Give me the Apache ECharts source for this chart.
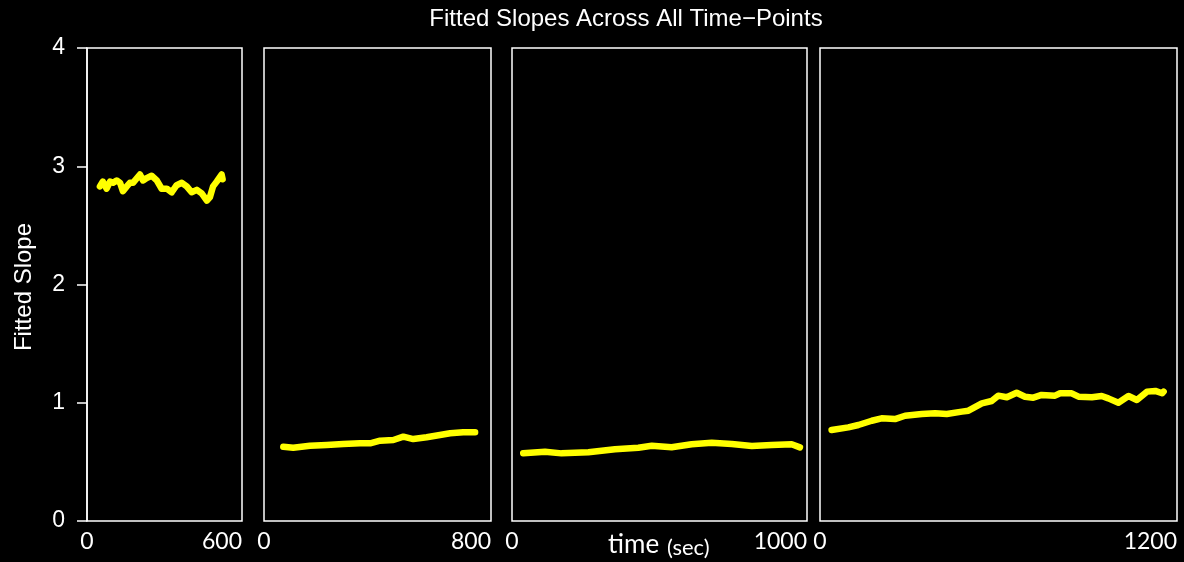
<!DOCTYPE html>
<html>
<head>
<meta charset="utf-8">
<script src="https://cdn.jsdelivr.net/npm/echarts@6/dist/echarts.min.js"></script>
<style>
html,body{margin:0;padding:0;background:#000;}
#chart{width:1184px;height:562px;}
</style>
</head>
<body>
<div id="chart"></div>
<script>
const chartTitle = 'Fitted Slopes Across All Time\u2212Points';
const yAxisTitle = 'Fitted Slope';
const xAxisTitleMain = 'time';
const xAxisTitleUnit = '(sec)';
const yTicks = [0, 1, 2, 3, 4];
const panelMax = [600, 800, 1000, 1200];

const p1Time  = [50, 61, 76, 89, 101, 115, 128, 139, 154, 166, 178, 205, 217, 231, 250, 270, 289, 309, 328, 347, 367, 386, 405, 425, 444, 464, 476, 488, 502, 521, 525];
const p1Slope = [2.83, 2.87, 2.81, 2.87, 2.86, 2.88, 2.86, 2.79, 2.83, 2.86, 2.86, 2.93, 2.88, 2.90, 2.92, 2.88, 2.81, 2.81, 2.78, 2.84, 2.86, 2.83, 2.78, 2.80, 2.77, 2.71, 2.74, 2.83, 2.87, 2.93, 2.89];

const p2Time  = [68, 103, 162, 221, 279, 338, 374, 409, 456, 491, 526, 573, 620, 656, 702, 744];
const p2Slope = [0.628, 0.620, 0.637, 0.643, 0.651, 0.657, 0.657, 0.679, 0.685, 0.713, 0.693, 0.708, 0.727, 0.742, 0.750, 0.750];

const p3Time  = [38, 112, 168, 259, 349, 428, 474, 541, 609, 677, 745, 813, 880, 948, 976];
const p3Slope = [0.572, 0.586, 0.572, 0.581, 0.606, 0.620, 0.637, 0.623, 0.649, 0.662, 0.651, 0.634, 0.643, 0.649, 0.623];

const p4Time  = [39, 95, 129, 174, 207, 252, 286, 342, 387, 426, 477, 499, 544, 577, 599, 628, 661, 689, 717, 745, 790, 807, 846, 869, 914, 947, 969, 1003, 1037, 1065, 1099, 1127, 1150, 1155];
const p4Slope = [0.770, 0.792, 0.812, 0.848, 0.868, 0.862, 0.890, 0.905, 0.911, 0.905, 0.925, 0.933, 0.995, 1.015, 1.060, 1.046, 1.085, 1.051, 1.043, 1.066, 1.060, 1.080, 1.080, 1.051, 1.046, 1.057, 1.037, 1.000, 1.057, 1.023, 1.094, 1.100, 1.080, 1.094];

const times = [p1Time, p2Time, p3Time, p4Time];
const slopes = [p1Slope, p2Slope, p3Slope, p4Slope];

const gridBoxes = [
  {left: 87, width: 155},
  {left: 264, width: 227},
  {left: 512, width: 295},
  {left: 820, width: 357}
];

const chart = echarts.init(document.getElementById('chart'), null, {renderer: 'canvas'});

const grids = gridBoxes.map(g => ({
  left: g.left, width: g.width, top: 48, bottom: 41,
  show: true, borderColor: '#ffffff', borderWidth: 1.5, backgroundColor: 'transparent'
}));

const xAxes = panelMax.map((m, i) => ({
  type: 'value', gridIndex: i, min: 0, max: m, interval: m,
  axisLine: {show: false}, axisTick: {show: false}, splitLine: {show: false},
  axisLabel: {
    color: '#ffffff', fontFamily: 'Lato', fontSize: 23, margin: 9,
    alignMinLabel: 'center', alignMaxLabel: 'right',
    showMinLabel: true, showMaxLabel: true,
    formatter: v => String(v)
  }
}));

const yAxes = panelMax.map((m, i) => ({
  type: 'value', gridIndex: i, min: yTicks[0], max: yTicks[yTicks.length - 1], interval: 1,
  splitLine: {show: false},
  axisLine: {show: i === 0, lineStyle: {color: '#ffffff', width: 1.5}},
  axisTick: {show: i === 0, length: 10, inside: false, lineStyle: {color: '#ffffff', width: 1.5}},
  axisLabel: {show: i === 0, color: '#ffffff', fontFamily: 'Liberation Sans', fontSize: 23, margin: 22}
}));

const series = times.map((t, i) => ({
  type: 'line', xAxisIndex: i, yAxisIndex: i,
  data: t.map((v, k) => [v, slopes[i][k]]),
  showSymbol: false, symbol: 'none',
  lineStyle: {color: '#ffff00', width: 6.5, cap: 'round', join: 'round'},
  animation: false
}));

chart.setOption({
  backgroundColor: '#000000',
  animation: false,
  grid: grids,
  xAxis: xAxes,
  yAxis: yAxes,
  series: series,
  graphic: [
    {type: 'text', x: 626, y: 19, style: {text: chartTitle, fill: '#ffffff', font: '24px "Liberation Sans"', textAlign: 'center', textVerticalAlign: 'middle'}},
    {type: 'text', x: 24, y: 287, rotation: Math.PI / 2, style: {text: yAxisTitle, fill: '#ffffff', font: '24px "Liberation Sans"', textAlign: 'center', textVerticalAlign: 'middle'}},
    {type: 'text', x: 608, y: 545, style: {text: xAxisTitleMain, fill: '#ffffff', font: '26px Lato', textAlign: 'left', textVerticalAlign: 'middle'}},
    {type: 'text', x: 667, y: 548, style: {text: xAxisTitleUnit, fill: '#ffffff', font: '22px Lato', textAlign: 'left', textVerticalAlign: 'middle'}}
  ]
});
</script>
</body>
</html>
